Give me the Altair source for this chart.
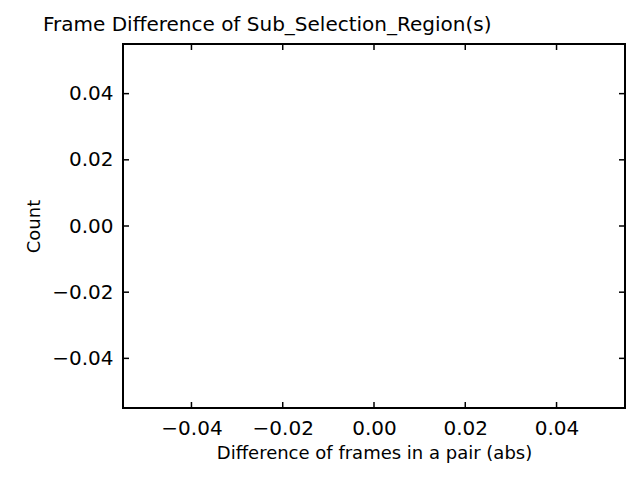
import altair as alt
import pandas as pd

ticks = [-0.04, -0.02, 0.0, 0.02, 0.04]
domain = [-0.055, 0.055]
title_text = "Frame Difference of Sub_Selection_Region(s)"
x_title = "Difference of frames in a pair (abs)"
y_title = "Count"

W, H = 502, 364
tdf = pd.DataFrame({"t": ticks})
sx = alt.Scale(domain=domain, nice=False, zero=False)
lab = "replace(format(datum.value,'.2f'),'-','\u2212')"

ax = dict(values=ticks, labelExpr=lab, grid=False, tickSize=0, domain=False,
          labelFont="DejaVu Sans", titleFont="DejaVu Sans", labelFontSize=20, titleFontSize=18,
          labelColor="black", titleColor="black", titleFontWeight="normal")

base = alt.Chart(pd.DataFrame({"x": [0.0], "y": [0.0]})).mark_point(opacity=0).encode(
    x=alt.X("x:Q", scale=sx, title=x_title, axis=alt.Axis(labelPadding=10, titlePadding=6, **ax)),
    y=alt.Y("y:Q", scale=sx, title=y_title, axis=alt.Axis(labelPadding=10, titlePadding=8, **ax)),
)
tc = alt.Chart(tdf)
bot = tc.mark_rule(color="black", strokeWidth=1.5).encode(x=alt.X("t:Q", scale=sx), y=alt.value(H), y2=alt.value(H - 6))
top = tc.mark_rule(color="black", strokeWidth=1.5).encode(x=alt.X("t:Q", scale=sx), y=alt.value(0), y2=alt.value(6))
lef = tc.mark_rule(color="black", strokeWidth=1.5).encode(y=alt.Y("t:Q", scale=sx), x=alt.value(0), x2=alt.value(6))
rig = tc.mark_rule(color="black", strokeWidth=1.5).encode(y=alt.Y("t:Q", scale=sx), x=alt.value(W), x2=alt.value(W - 6))

chart = alt.layer(base, bot, top, lef, rig).properties(
    width=W, height=H,
    autosize=alt.AutoSizeParams(type="none"),
    padding={"left": 115, "top": 36, "right": 7, "bottom": 56},
    title=alt.TitleParams(title_text, anchor="start", frame="group", dx=-80, fontSize=20,
                          fontWeight="normal", font="DejaVu Sans", color="black", offset=8),
).configure_view(stroke="black", strokeWidth=2)

chart.save("out.html", embed_options={"renderer": "svg", "actions": False})
